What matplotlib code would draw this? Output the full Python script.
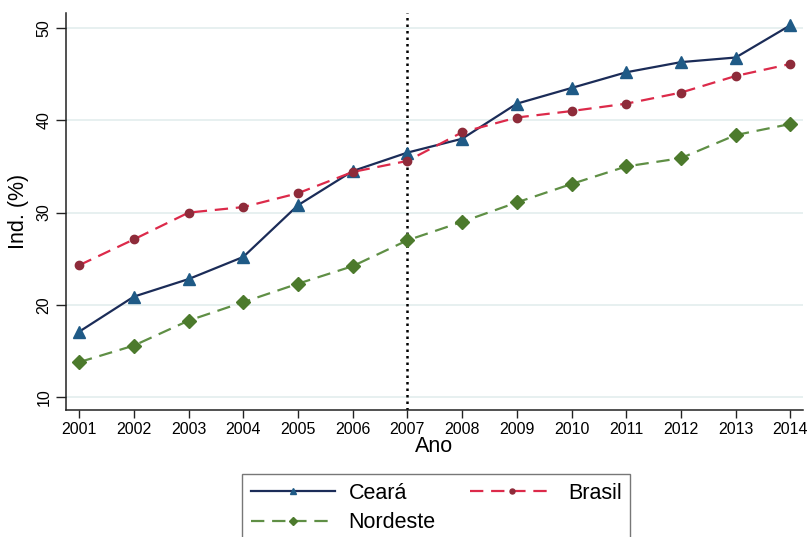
import matplotlib
matplotlib.use("Agg")
import matplotlib.pyplot as plt

plt.rcParams['font.family'] = ['Liberation Sans', 'DejaVu Sans']

anos = [2001, 2002, 2003, 2004, 2005, 2006, 2007, 2008, 2009, 2010, 2011, 2012, 2013, 2014]
ceara = [17.1, 20.9, 22.8, 25.2, 30.8, 34.5, 36.5, 38.0, 41.8, 43.5, 45.2, 46.3, 46.8, 50.3]
brasil = [24.3, 27.1, 30.0, 30.6, 32.1, 34.4, 35.6, 38.7, 40.3, 41.0, 41.8, 43.0, 44.8, 46.1]
nordeste = [13.8, 15.6, 18.3, 20.3, 22.3, 24.2, 27.0, 29.0, 31.1, 33.1, 35.0, 35.9, 38.4, 39.6]
yticks = [10, 20, 30, 40, 50]
ano_corte = 2007

fig = plt.figure(figsize=(8.1, 5.37), dpi=100)
ax = fig.add_axes([66/810, 1 - 410/537, (803 - 66)/810, (410 - 13)/537])

ax.set_xlim(2000.76, 2014.23)
ax.set_ylim(8.62, 51.62)

for y in yticks:
    ax.axhline(y, color='#e3eeee', lw=1.2, zorder=0)

ax.axvline(ano_corte, color='black', ls=(0, (1, 1.6)), lw=1.8, zorder=1)

l1, = ax.plot(anos, ceara, color='#1b2c58', lw=1.6, marker='^', ms=8,
              mfc='#1f5a86', mec='#1f5a86', label='Ceará', zorder=3)
l2, = ax.plot(anos, brasil, color='#dc2a4a', lw=1.6, ls=(0, (6, 3.5)), marker='o', ms=6,
              mfc='#8e2b3a', mec='#8e2b3a', label='Brasil', zorder=3)
l3, = ax.plot(anos, nordeste, color='#5f8f45', lw=1.6, ls=(0, (6, 3.5)), marker='D', ms=7,
              mfc='#4c7a2c', mec='#4c7a2c', label='Nordeste', zorder=3)

ax.set_xticks(anos)
ax.set_xticklabels([str(a) for a in anos], fontsize=11.5)
ax.set_yticks(yticks)
ax.set_yticklabels([str(v) for v in yticks], fontsize=11.5, rotation=90, va='center')
ax.tick_params(axis='x', direction='out', length=6, width=1, color='#222222', pad=3)
ax.tick_params(axis='y', direction='out', length=7.5, width=1, color='#222222', pad=3)

for s in ['top', 'right']:
    ax.spines[s].set_visible(False)
for s in ['left', 'bottom']:
    ax.spines[s].set_color('#222222')
    ax.spines[s].set_linewidth(1.1)

ax.set_xlabel('Ano', fontsize=15.5, labelpad=-1)
ax.set_ylabel('Ind. (%)', fontsize=15.5, va='center')
ax.yaxis.set_label_coords(-0.064, 0.5)

leg = fig.legend(handles=[l1, l3, l2], ncol=2, loc='upper left',
                 bbox_to_anchor=(242/810, 1 - 474/537), borderaxespad=0, fontsize=15.5,
                 handlelength=3.9, markerscale=0.6, frameon=True, fancybox=False,
                 edgecolor='#555555', borderpad=0.4, columnspacing=1.6,
                 handletextpad=0.65, labelspacing=0.4)
leg.get_frame().set_linewidth(1.0)

fig.savefig('out.png', dpi=100)
